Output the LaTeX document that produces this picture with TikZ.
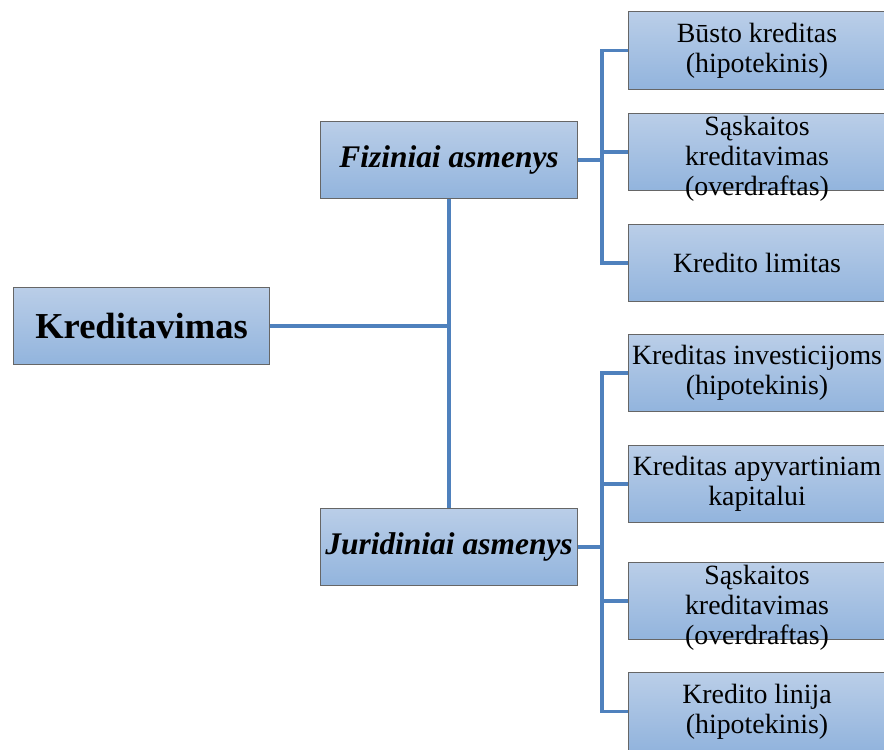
\documentclass[tikz,border=0pt]{standalone}
\usepackage{fontspec}
\setmainfont{Liberation Serif}
\newcommand{\fixlines}[2][0pt]{\raisebox{#1}[0pt][0pt]{\begin{tabular}{@{}c@{}}#2\end{tabular}}}
\begin{document}
\begin{tikzpicture}[x=0.75pt,y=-0.75pt,
  box/.style={rectangle,draw=black!60,line width=0.9pt,
    top color=boxtop,bottom color=boxbot,
    minimum width=192.5pt,minimum height=58pt,inner sep=0pt,align=center},
  small/.style={box,font=\fontsize{20.9}{22.6}\selectfont},
  conn/.style={draw=linec,line width=2.4pt}]
\definecolor{boxtop}{RGB}{186,206,232}
\definecolor{boxbot}{RGB}{146,180,221}
\definecolor{linec}{RGB}{79,129,189}
\useasboundingbox (0,0) rectangle (884,749);
\fill[white] (0,0) rectangle (884,749);

\node[box,font=\bfseries\fontsize{27.4}{30}\selectfont] (kred) at (141.5,326) {Kreditavimas};
\node[box,font=\bfseries\itshape\fontsize{23.6}{26}\selectfont] (fiz) at (449,160) {Fiziniai asmenys};
\node[box,font=\bfseries\itshape\fontsize{23.6}{26}\selectfont] (jur) at (449,547) {Juridiniai asmenys};

\node[small] (b1) at (757,50.5) {Būsto kreditas\\(hipotekinis)};
\node[small] (b2) at (757,152) {\fixlines[-11pt]{Sąskaitos\\kreditavimas\\(overdraftas)}};
\node[small] (b3) at (757,263) {Kredito limitas};
\node[small] (c1) at (757,373) {Kreditas investicijoms\\(hipotekinis)};
\node[small] (c2) at (757,484) {Kreditas apyvartiniam\\kapitalui};
\node[small] (c3) at (757,601) {\fixlines[-11pt]{Sąskaitos\\kreditavimas\\(overdraftas)}};
\node[small] (c4) at (757,711.5) {Kredito linija\\(hipotekinis)};

\coordinate (fbus) at (602,160);
\coordinate (jbus) at (602,547);

\draw[conn] (fiz.south) -- (jur.north);
\draw[conn] (kred.east) -- (kred.east -| fiz.south);

\draw[conn] (fiz.east) -- (fbus);
\draw[conn] (b1.west) -- (b1.west -| fbus) -- (b3.west -| fbus) -- (b3.west);
\draw[conn] (b2.west) -- (b2.west -| fbus);

\draw[conn] (jur.east) -- (jbus);
\draw[conn] (c1.west) -- (c1.west -| jbus) -- (c4.west -| jbus) -- (c4.west);
\draw[conn] (c2.west) -- (c2.west -| jbus);
\draw[conn] (c3.west) -- (c3.west -| jbus);
\end{tikzpicture}
\end{document}
